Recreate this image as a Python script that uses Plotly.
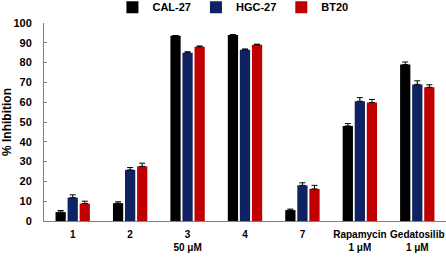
import plotly.graph_objects as go

categories = ["1", "2", "3", "4", "7", "Rapamycin", "Gedatosilib"]
tick_labels = ["1", "2", "3<br>50 μM", "4", "7", "Rapamycin<br>1 μM", "Gedatosilib<br>1 μM"]
cal27 = [4.5, 9.0, 93.5, 94.0, 5.5, 48.0, 79.0]
cal27_err = [0.8, 0.7, 0.2, 0.2, 0.5, 1.2, 1.3]
hgc27 = [11.8, 25.8, 85.0, 86.5, 18.0, 60.5, 69.0]
hgc27_err = [1.4, 1.2, 0.5, 0.4, 1.3, 1.8, 1.8]
bt20 = [8.8, 27.6, 88.0, 89.0, 16.2, 59.8, 67.5]
bt20_err = [1.2, 1.6, 0.4, 0.3, 1.8, 1.6, 1.3]

series = [("CAL-27", cal27, cal27_err, "#000000"),
          ("HGC-27", hgc27, hgc27_err, "#0e2261"),
          ("BT20", bt20, bt20_err, "#c00000")]

fig = go.Figure()
for name, vals, errs, col in series:
    fig.add_trace(go.Bar(
        name=name, x=categories, y=vals, marker_color=col, marker_line_width=0,
        error_y=dict(type="data", array=errs, visible=True, color="#000000",
                     thickness=1, width=3, symmetric=False, arrayminus=[0]*len(errs)),
    ))

font_fam = "Liberation Sans, Arial, sans-serif"
fig.update_layout(
    width=446, height=257,
    margin=dict(l=44, r=0, t=23, b=36, autoexpand=False),
    paper_bgcolor="white", plot_bgcolor="white",
    barmode="group", bargap=0.37, bargroupgap=0.15,
    font=dict(family=font_fam, size=10, color="#000000"),
    showlegend=True,
    legend=dict(orientation="h", x=0.47, xanchor="center",
                yref="container", y=0.972, yanchor="middle",
                font=dict(size=11, family=font_fam, weight="bold"),
                itemwidth=30, tracegroupgap=0, traceorder="normal"),
    xaxis=dict(tickmode="array", tickvals=categories, ticktext=tick_labels,
               showline=True, linecolor="#808080", linewidth=1, ticks="",
               ticklabelstandoff=4,
               tickfont=dict(size=10, family=font_fam, weight="bold"),
               showgrid=False, fixedrange=True),
    yaxis=dict(range=[0, 100], dtick=10, showline=True, linecolor="#808080", linewidth=1,
               ticks="inside", ticklen=3, tickcolor="#808080", showgrid=False, zeroline=False,
               ticklabelstandoff=9,
               tickfont=dict(size=11, family=font_fam, weight="bold"),
               title=dict(text="% Inhibition", font=dict(size=12, family=font_fam, weight="bold"),
                          standoff=0)),
)

fig.write_html("out.html")
